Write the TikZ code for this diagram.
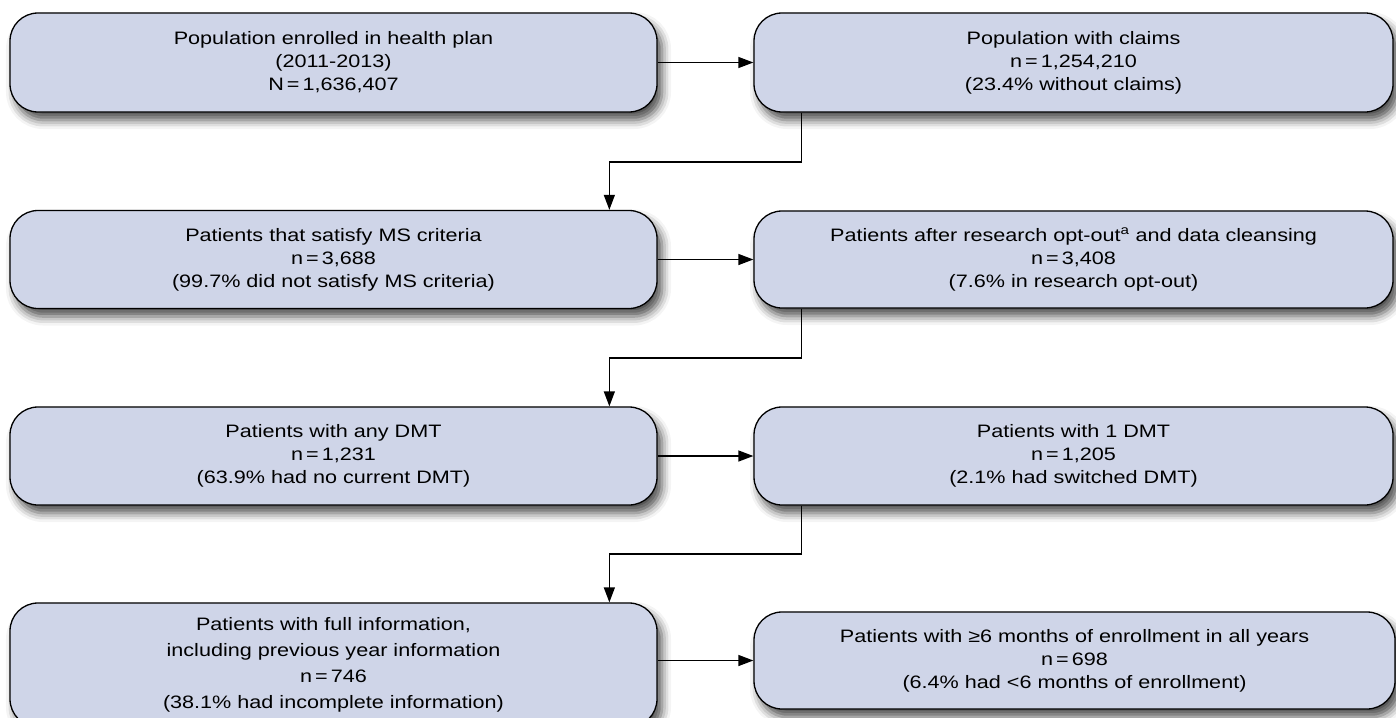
\documentclass[tikz,border=0pt]{standalone}
\usepackage{fontspec}
\setmainfont[FakeStretch=1.2]{Liberation Sans}
\usetikzlibrary{arrows.meta,shadows.blur,calc}
\definecolor{boxfill}{RGB}{207,213,232}
\tikzset{
  flowbox/.style={draw=black, line width=1.3pt, fill=boxfill, rounded corners=28pt,
    align=center, inner sep=0pt,
    font=\fontsize{18}{23}\selectfont,
    blur shadow={shadow xshift=5pt, shadow yshift=-8pt, shadow blur radius=9pt, shadow opacity=70}},
  arr/.style={line width=1.3pt, -{Triangle[length=15pt,width=11pt]}}
}
\begin{document}
\begin{tikzpicture}[x=1pt,y=-1pt]
\useasboundingbox (0,0) rectangle (1396,717);
% row 1
\node[flowbox, minimum width=647pt, minimum height=99pt] (L1) at (333.5,62.5)
  {Population enrolled in health plan\\(2011-2013)\\N\,=\,1,636,407};
\node[flowbox, minimum width=639pt, minimum height=99pt] (R1) at (1073.5,62.5)
  {Population with claims\\n\,=\,1,254,210\\(23.4\% without claims)};
% row 2
\node[flowbox, minimum width=647pt, minimum height=98pt] (L2) at (333.5,259.5)
  {Patients that satisfy MS criteria\\n\,=\,3,688\\(99.7\% did not satisfy MS criteria)};
\node[flowbox, minimum width=639pt, minimum height=97pt] (R2) at (1073.5,259.5)
  {Patients after research opt-out\textsuperscript{a} and data cleansing\\n\,=\,3,408\\(7.6\% in research opt-out)};
% row 3
\node[flowbox, minimum width=647pt, minimum height=98pt] (L3) at (333.5,456)
  {Patients with any DMT\\n\,=\,1,231\\(63.9\% had no current DMT)};
\node[flowbox, minimum width=639pt, minimum height=98pt] (R3) at (1073.5,456)
  {Patients with 1 DMT\\n\,=\,1,205\\(2.1\% had switched DMT)};
% row 4
\node[flowbox, minimum width=647pt, minimum height=124pt] (L4) at (333.5,665)
  {Patients with full information,\\[3pt]including previous year information\\[3pt]n\,=\,746\\[3pt](38.1\% had incomplete information)};
\node[flowbox, minimum width=641pt, minimum height=97pt] (R4) at (1074.5,660.5)
  {Patients with ≥6 months of enrollment in all years\\n\,=\,698\\(6.4\% had <6 months of enrollment)};
% horizontal arrows
\draw[arr] (L1.east) -- (R1.west);
\draw[arr] (L2.east) -- (R2.west);
\draw[arr] (L3.east) -- (R3.west);
\draw[arr] (L4.east |- R4.west) -- (R4.west);
% elbow connectors
\coordinate (m1) at (610,162);
\coordinate (m2) at (610,358);
\coordinate (m3) at (610,554);
\draw[arr] ($(R1.south west)+(48,0)$) |- (m1) -| ($(L2.north west)+(600,0)$);
\draw[arr] ($(R2.south west)+(48,0)$) |- (m2) -| ($(L3.north west)+(600,0)$);
\draw[arr] ($(R3.south west)+(48,0)$) |- (m3) -| ($(L4.north west)+(600,0)$);
\end{tikzpicture}
\end{document}
